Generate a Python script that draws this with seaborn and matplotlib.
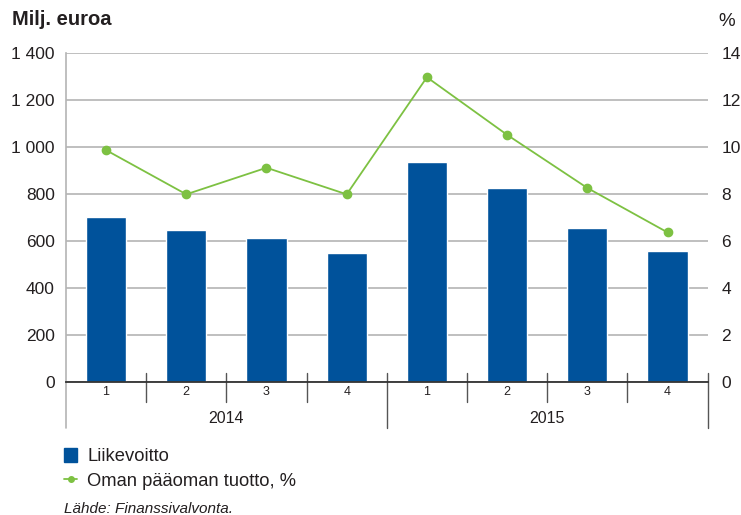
import numpy as np
import pandas as pd
import matplotlib
matplotlib.use('Agg')
import matplotlib.pyplot as plt
import matplotlib.transforms as mtransforms
from matplotlib.patches import Patch
from matplotlib.lines import Line2D
import seaborn as sns

years = ['2014', '2015']
quarters = ['1', '2', '3', '4']
liikevoitto = [702, 647, 614, 550, 936, 825, 654, 556]
oman_paaoman_tuotto = [9.87, 7.99, 9.12, 7.99, 12.97, 10.52, 8.26, 6.37]
left_ticks = [0, 200, 400, 600, 800, 1000, 1200, 1400]
left_labels = ['0', '200', '400', '600', '800', '1 000', '1 200', '1 400']
right_ticks = [0, 2, 4, 6, 8, 10, 12, 14]

blue = '#00529b'
green = '#7dc142'
grid_col = '#b4b4b4'
text_col = '#231f20'

df = pd.DataFrame({
    'jakso': [f'{y}-{q}' for y in years for q in quarters],
    'liikevoitto': liikevoitto,
    'tuotto': oman_paaoman_tuotto,
})

sns.set_style('white')
plt.rcParams['font.family'] = ['Liberation Sans', 'DejaVu Sans']
plt.rcParams['text.color'] = text_col

fig = plt.figure(figsize=(7.41, 5.15), dpi=100)
ax = fig.add_axes([0.089, 0.258, 0.866, 0.639])

sns.barplot(data=df, x='jakso', y='liikevoitto', color=blue, width=0.5,
            saturation=1, ax=ax, zorder=3)
ax.set_ylim(0, 1400)
ax.set_xlim(-0.5, len(df) - 0.5)
ax.set_yticks(left_ticks)
ax.set_yticklabels(left_labels, fontsize=12.5)
ax.yaxis.grid(True, color=grid_col, linewidth=1.2, zorder=0)
ax.set_axisbelow(True)
ax.tick_params(axis='y', length=0, pad=8, labelcolor=text_col)
ax.set_xticks([])
ax.set_xlabel('')
ax.set_ylabel('')
for s in ['top', 'right']:
    ax.spines[s].set_visible(False)
ax.spines['left'].set_color(grid_col)
ax.spines['left'].set_linewidth(1.2)
ax.spines['bottom'].set_color('#333333')
ax.spines['bottom'].set_linewidth(1.3)
ax.spines['bottom'].set_zorder(5)

ax2 = ax.twinx()
sns.pointplot(data=df, x='jakso', y='tuotto', color=green, markers='o',
              markersize=6, linewidth=1.3, ax=ax2)
ax2.set_ylim(0, 14)
ax2.set_xlim(-0.5, len(df) - 0.5)
ax2.set_yticks(right_ticks)
ax2.set_yticklabels([str(t) for t in right_ticks], fontsize=12.5)
ax2.tick_params(axis='y', length=0, pad=10, labelcolor=text_col)
ax2.set_xticks([])
ax2.set_xlabel('')
ax2.set_ylabel('')
for s in ax2.spines.values():
    s.set_visible(False)

# category axis: quarter and year separators
trans = mtransforms.blended_transform_factory(ax.transData, ax.transAxes)
n = len(df)
for i in range(n + 1):
    x = i - 0.5
    y0 = -0.14 if i % len(quarters) == 0 else -0.061
    if i == 0:
        ax.plot([x, x], [0, y0], transform=trans, color=grid_col, lw=1.2, clip_on=False)
    else:
        ax.plot([x, x], [0.027, y0], transform=trans, color='#555555', lw=1.0, clip_on=False)
for i, lab in enumerate(df['jakso']):
    ax.text(i, -0.03, lab.split('-')[1], transform=trans, ha='center', va='center',
            fontsize=9)
for j, y in enumerate(years):
    xc = j * len(quarters) + (len(quarters) - 1) / 2
    ax.text(xc, -0.11, y, transform=trans, ha='center', va='center', fontsize=11.5)

fig.text(0.016, 0.962, 'Milj. euroa', fontsize=14.5, fontweight='bold', va='center')
fig.text(0.981, 0.958, '%', fontsize=13.5, va='center', ha='center')

handles = [
    Patch(facecolor=blue, edgecolor=blue),
    Line2D([0], [0], color=green, lw=1.3, marker='o', markersize=4),
]
fig.legend(handles, ['Liikevoitto', 'Oman pääoman tuotto, %'],
           loc='upper left', bbox_to_anchor=(0.076, 0.145), frameon=False,
           fontsize=13.2, handlelength=0.75, handleheight=0.8, handletextpad=0.55,
           labelspacing=0.4, borderaxespad=0)
fig.text(0.086, 0.004, 'Lähde: Finanssivalvonta.', fontsize=11, style='italic')

fig.savefig('out.png', dpi=100)
